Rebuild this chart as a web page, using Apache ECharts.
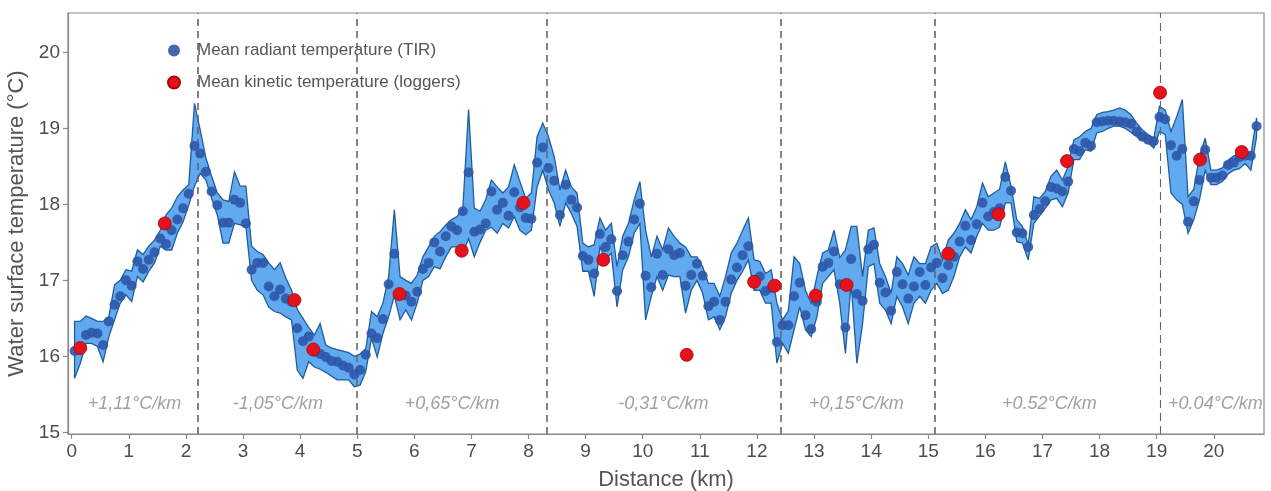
<!DOCTYPE html>
<html><head><meta charset="utf-8">
<script src="https://cdn.jsdelivr.net/npm/echarts@6/dist/echarts.min.js"></script>
<style>html,body{margin:0;padding:0;background:#fff}#c{width:1271px;height:491px}</style>
</head><body><div id="c"></div>
<script>
// distance along the river (km) of each TIR sample
const distanceKm = [
0.05,0.15,0.25,0.35,0.45,0.55,0.65,0.75,0.85,0.95,1.05,1.15,1.25,1.35,1.45,1.55,1.65,1.75,1.85,1.95,
2.05,2.15,2.25,2.35,2.45,2.55,2.65,2.75,2.85,2.95,3.05,3.15,3.25,3.35,3.45,3.55,3.65,3.75,3.85,3.95,
4.05,4.15,4.25,4.35,4.45,4.55,4.65,4.75,4.85,4.95,5.05,5.15,5.25,5.35,5.45,5.55,5.65,5.75,5.85,5.95,
6.05,6.15,6.25,6.35,6.45,6.55,6.65,6.75,6.85,6.95,7.05,7.15,7.25,7.35,7.45,7.55,7.65,7.75,7.85,7.95,
8.05,8.15,8.25,8.35,8.45,8.55,8.65,8.75,8.85,8.95,9.05,9.15,9.25,9.35,9.45,9.55,9.65,9.75,9.85,9.95,
10.05,10.15,10.25,10.35,10.45,10.55,10.65,10.75,10.85,10.95,11.05,11.15,11.25,11.35,11.45,11.55,11.65,11.75,11.85,11.95,
12.05,12.15,12.25,12.35,12.45,12.55,12.65,12.75,12.85,12.95,13.05,13.15,13.25,13.35,13.45,13.55,13.65,13.75,13.85,13.95,
14.05,14.15,14.25,14.35,14.45,14.55,14.65,14.75,14.85,14.95,15.05,15.15,15.25,15.35,15.45,15.55,15.65,15.75,15.85,15.95,
16.05,16.15,16.25,16.35,16.45,16.55,16.65,16.75,16.85,16.95,17.05,17.15,17.25,17.35,17.45,17.55,17.65,17.75,17.85,17.95,
18.05,18.15,18.25,18.35,18.45,18.55,18.65,18.75,18.85,18.95,19.05,19.15,19.25,19.35,19.45,19.55,19.65,19.75,19.85,19.95,
20.05,20.15,20.25,20.35,20.45,20.55,20.65,20.75];

// mean radiant temperature (TIR), degC
const tirMean = [
16.07,16.08,16.28,16.31,16.30,16.15,16.46,16.68,16.79,17.00,16.93,17.25,17.15,17.27,17.37,17.55,17.48,17.66,17.80,17.95,
18.14,18.77,18.67,18.43,18.17,17.99,17.76,17.76,18.06,18.02,17.75,17.14,17.23,17.23,16.92,16.79,16.88,16.76,16.72,16.37,
16.20,16.26,16.06,16.03,15.99,15.94,15.93,15.88,15.85,15.76,15.82,16.02,16.30,16.24,16.49,16.95,17.35,16.82,16.80,16.72,
16.85,17.15,17.23,17.50,17.38,17.58,17.71,17.66,17.91,18.42,17.64,17.67,17.75,18.17,17.93,18.02,17.85,18.16,17.96,17.82,
17.81,18.55,18.75,18.48,18.31,17.86,18.26,18.06,17.96,17.32,17.27,17.09,17.61,17.44,17.54,16.86,17.33,17.51,17.80,18.01,
17.06,16.91,17.35,17.07,17.41,17.33,17.36,16.93,17.07,17.22,17.06,16.66,16.72,16.48,16.72,17.01,17.17,17.33,17.45,17.00,
17.05,16.86,16.90,16.19,16.41,16.41,16.79,16.97,16.54,16.36,16.72,17.18,17.23,17.38,16.95,16.38,17.28,16.82,16.73,17.41,
17.47,16.97,16.84,16.60,17.11,16.95,16.76,16.92,17.11,16.94,17.17,17.23,17.03,17.20,17.31,17.51,17.72,17.53,17.74,18.02,
17.84,17.90,17.95,18.36,18.18,17.63,17.62,17.44,17.86,17.94,18.04,18.23,18.21,18.17,18.30,18.73,18.70,18.81,18.77,19.08,
19.09,19.10,19.10,19.09,19.08,19.06,18.96,18.89,18.85,18.83,19.15,19.12,18.78,18.64,18.73,17.77,18.04,18.32,18.72,18.35,
18.35,18.38,18.52,18.55,18.62,18.64,18.64,19.03];

// lower edge of the TIR band, degC
const tirLow = [
15.71,15.91,16.17,16.17,16.13,15.93,16.26,16.48,16.70,16.81,16.72,17.05,16.98,17.12,17.23,17.45,17.40,17.40,17.62,17.77,
17.99,18.24,18.41,18.32,18.08,17.86,17.49,17.49,17.75,17.73,17.71,17.00,16.87,16.81,16.65,16.59,16.57,16.52,16.48,15.82,
15.71,15.93,15.86,15.83,15.79,15.74,15.69,15.69,15.69,15.60,15.62,15.80,16.24,15.99,16.30,16.52,16.80,16.48,16.61,16.48,
16.70,17.00,17.05,17.18,17.15,17.31,17.44,17.44,17.36,17.55,17.31,17.50,17.66,17.70,17.62,17.75,17.69,17.84,17.66,17.60,
17.66,18.23,18.45,18.19,18.02,17.71,18.02,17.88,17.71,17.12,17.12,16.79,17.44,17.27,17.36,16.65,17.14,17.31,17.62,17.75,
16.48,16.79,17.05,16.87,17.07,17.05,17.05,16.57,16.87,17.00,16.83,16.48,16.52,16.35,16.52,16.83,17.00,17.12,17.27,16.87,
16.87,16.70,16.70,15.91,16.17,16.04,16.35,16.65,16.35,16.26,16.52,16.96,17.05,17.14,16.70,16.04,16.96,15.91,16.43,17.18,
17.22,16.70,16.61,16.43,16.79,16.65,16.43,16.70,16.79,16.70,16.87,16.96,16.83,16.87,17.05,17.31,17.44,17.36,17.58,17.75,
17.66,17.66,17.70,18.02,18.02,17.51,17.49,17.27,17.75,17.85,17.95,18.06,18.08,17.97,18.15,18.59,18.59,18.72,18.70,18.94,
18.96,19.00,19.03,19.03,19.00,18.95,18.89,18.85,18.81,18.74,18.96,18.92,18.15,18.06,18.00,17.62,17.80,18.06,18.45,18.26,
18.26,18.30,18.40,18.45,18.47,18.54,18.45,18.89];

// upper edge of the TIR band, degC
const tirHigh = [
16.46,16.46,16.53,16.50,16.46,16.46,16.52,16.94,17.00,17.14,17.12,17.40,17.34,17.45,17.53,17.66,17.86,17.95,18.10,18.19,
18.26,19.33,18.98,18.61,18.37,18.15,18.06,18.04,18.43,18.24,18.24,17.45,17.38,17.34,17.23,17.14,17.23,17.03,16.87,16.62,
16.50,16.38,16.28,16.43,16.15,16.11,16.09,16.07,16.05,16.00,16.03,16.10,16.59,16.52,16.70,17.05,17.93,17.05,17.00,16.96,
17.07,17.31,17.44,17.58,17.64,17.73,17.80,17.84,17.95,19.25,17.95,17.91,18.06,18.32,18.23,18.15,18.23,18.52,18.30,18.08,
18.15,18.89,19.07,18.89,18.63,18.19,18.45,18.23,18.15,17.49,17.44,17.47,17.82,17.66,17.75,17.18,17.58,17.75,18.06,18.30,
17.66,17.31,17.58,17.40,17.69,17.58,17.49,17.44,17.31,17.31,17.18,16.96,16.96,16.79,17.05,17.36,17.49,17.66,17.82,17.27,
17.25,17.09,17.14,16.70,16.48,16.60,17.31,17.22,16.87,16.70,17.05,17.36,17.40,17.66,17.30,17.40,17.71,17.71,17.05,17.66,
17.69,17.22,17.05,16.83,17.31,17.22,17.07,17.31,17.22,17.22,17.44,17.49,17.27,17.53,17.62,17.75,17.93,17.80,17.97,18.28,
18.10,18.15,18.20,18.56,18.24,17.80,17.71,17.47,18.10,18.08,18.17,18.37,18.45,18.32,18.50,18.85,18.89,18.96,19.00,19.18,
19.21,19.22,19.24,19.27,19.24,19.18,19.07,18.98,18.92,18.87,19.29,19.24,18.96,19.15,19.38,18.10,18.20,18.63,18.87,18.45,
18.45,18.48,18.58,18.64,18.66,18.72,18.65,19.14];

// loggers (mean kinetic temperature)
const loggerDist = [0.15,1.63,3.90,4.23,5.74,6.83,7.91,9.31,10.77,11.95,12.31,13.03,13.57,15.35,16.23,17.43,19.06,19.76,20.49];
const loggerTemp = [16.11,17.75,16.74,16.09,16.82,17.39,18.02,17.27,16.02,16.98,16.93,16.80,16.94,17.35,17.87,18.57,19.47,18.59,18.69];

// reach boundaries and slope annotations
const reachBreaks = [2.2, 5.0, 8.32, 12.42, 15.12, 19.06];
const slopeText = ['+1,11°C/km','-1,05°C/km','+0,65°C/km','-0,31°C/km','+0,15°C/km','+0.52°C/km','+0.04°C/km'];
const slopeX = [1.10, 3.61, 6.66, 10.36, 13.74, 17.12, 20.03];
const slopeY = 15.37;

const xTicks = [0,1,2,3,4,5,6,7,8,9,10,11,12,13,14,15,16,17,18,19,20];
const yTicks = [15,16,17,18,19,20];

const FONT = '"Liberation Sans", Arial, sans-serif';
const AXIS = '#8a8a8a';
const NAME_TIR = 'Mean radiant temperature (TIR)';
const NAME_LOG = 'Mean kinetic temperature (loggers)';

const bandData = distanceKm.map((d, i) => [d, tirLow[i], tirHigh[i]]);
const tirPts = distanceKm.map((d, i) => [d, tirMean[i]]);
const logPts = loggerDist.map((d, i) => [d, loggerTemp[i]]);
const slopePts = slopeX.map((x, i) => ({ value: [x, slopeY], name: slopeText[i] }));

function renderBand(params, api) {
  if (params.dataIndex !== 0) return null;
  const pts = [];
  for (let i = 0; i < bandData.length; i++) pts.push(api.coord([bandData[i][0], bandData[i][2]]));
  for (let i = bandData.length - 1; i >= 0; i--) pts.push(api.coord([bandData[i][0], bandData[i][1]]));
  return {
    type: 'polygon',
    shape: { points: pts },
    style: { fill: '#62aaf0', stroke: '#1f5d9c', lineWidth: 1.3, lineJoin: 'miter', miterLimit: 4 }
  };
}

const chart = echarts.init(document.getElementById('c'), null, { renderer: 'canvas' });
chart.setOption({
  animation: false,
  backgroundColor: '#fff',
  grid: { left: 68, right: 7, top: 13, bottom: 57, show: true, borderColor: AXIS, borderWidth: 1.2,
          containLabel: false, outerBoundsMode: 'none' },
  xAxis: {
    type: 'value', min: -0.065, max: 20.88,
    axisLine: { show: true, onZero: false, lineStyle: { color: AXIS, width: 1.2 } },
    axisTick: { show: true, customValues: xTicks, length: 5, lineStyle: { color: AXIS, width: 1.2 } },
    axisLabel: { customValues: xTicks, color: '#4d4d4d', fontSize: 19, fontFamily: FONT, margin: 8 },
    splitLine: { show: false },
    name: 'Distance (km)', nameLocation: 'middle', nameGap: 35,
    nameTextStyle: { color: '#555', fontSize: 22, fontFamily: FONT }
  },
  yAxis: {
    type: 'value', min: 14.978, max: 20.519,
    axisLine: { show: true, onZero: false, lineStyle: { color: AXIS, width: 1.2 } },
    axisTick: { show: true, customValues: yTicks, length: 5, lineStyle: { color: AXIS, width: 1.2 } },
    axisLabel: { customValues: yTicks, color: '#4d4d4d', fontSize: 19, fontFamily: FONT, margin: 8 },
    splitLine: { show: false },
    name: 'Water surface temperature (°C)', nameLocation: 'middle', nameGap: 22,
    nameTextStyle: { color: '#555', fontSize: 22, fontFamily: FONT }
  },
  legend: {
    data: [NAME_TIR, NAME_LOG], orient: 'vertical', left: 162, top: 37,
    icon: 'circle', itemWidth: 12, itemHeight: 12, itemGap: 15,
    textStyle: { color: '#555', fontSize: 17, fontFamily: FONT, padding: [0, 0, 0, 12] }
  },
  series: [
    {
      name: 'band', type: 'custom', data: bandData, renderItem: renderBand,
      encode: { x: 0, y: [1, 2] }, z: 2, silent: true, clip: true
    },
    {
      name: 'breaks', type: 'line', data: [], z: 4, silent: true,
      markLine: {
        silent: true, symbol: ['none', 'none'], label: { show: false },
        lineStyle: { color: '#666', width: 1.6, type: [7, 5] },
        data: reachBreaks.map((v, i) => (i === reachBreaks.length - 1
          ? { xAxis: v, lineStyle: { width: 1.1, type: [8, 5] } }
          : { xAxis: v }))
      }
    },
    {
      name: NAME_TIR, type: 'scatter', data: tirPts, symbolSize: 10, z: 5,
      itemStyle: { color: '#2d57a8', opacity: 0.9 }
    },
    {
      name: NAME_LOG, type: 'scatter', data: logPts, symbolSize: 13, z: 6,
      itemStyle: { color: '#e3121b', borderColor: '#a8060c', borderWidth: 0.8, opacity: 1 }
    },
    {
      name: 'slopes', type: 'scatter', data: slopePts, symbolSize: 0, z: 4, silent: true,
      label: { show: true, position: 'inside', formatter: p => p.name, color: '#888',
               fontSize: 18, fontStyle: 'italic', fontFamily: FONT }
    }
  ]
});
</script></body></html>
